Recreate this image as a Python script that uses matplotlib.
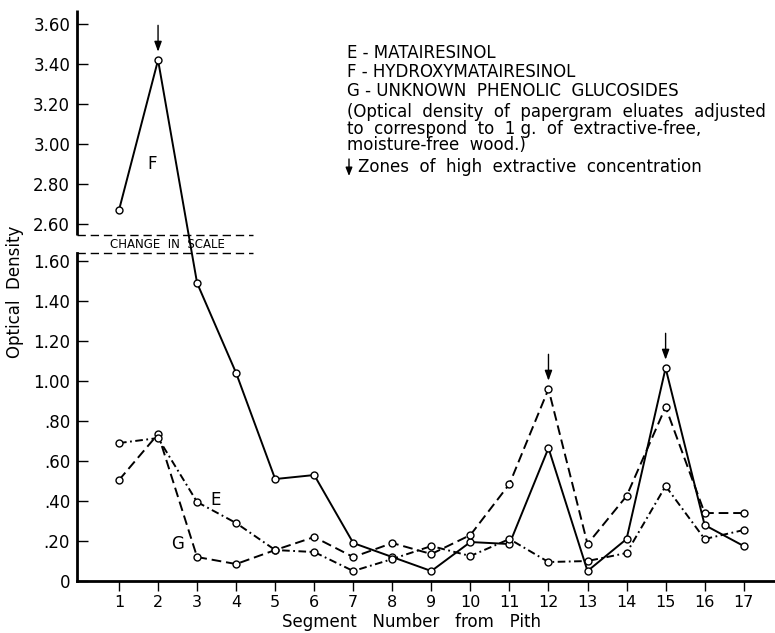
import matplotlib
matplotlib.use("Agg")
import matplotlib.pyplot as plt
import numpy as np

plt.rcParams["font.family"] = ["DejaVu Sans"]
plt.rcParams["lines.scale_dashes"] = False

# segment numbers from pith
segmentos = list(range(1, 18))

# optical density values
f_hidroxi = [2.67, 3.42, 1.49, 1.04, 0.51, 0.53, 0.19, 0.12, 0.05, 0.195,
             0.185, 0.665, 0.05, 0.21, 1.065, 0.28, 0.175]
e_matai = [0.69, 0.715, 0.395, 0.29, 0.155, 0.145, 0.05, 0.11, 0.175, 0.125,
           0.21, 0.095, 0.10, 0.14, 0.475, 0.21, 0.255]
g_gluco = [0.505, 0.735, 0.12, 0.085, 0.155, 0.22, 0.12, 0.19, 0.135, 0.23,
           0.485, 0.96, 0.185, 0.425, 0.87, 0.34, 0.34]

picos = [(2, 3.42), (12, 0.96), (15, 1.065)]

yticks = [0, 0.2, 0.4, 0.6, 0.8, 1.0, 1.2, 1.4, 1.6,
          2.6, 2.8, 3.0, 3.2, 3.4, 3.6]
ylabels = ["0", ".20", ".40", ".60", ".80", "1.00", "1.20", "1.40", "1.60",
           "2.60", "2.80", "3.00", "3.20", "3.40", "3.60"]

# scale break
QUEBRA_BAIXO = 1.64
QUEBRA_ALTO = 2.545
QUEBRA_VIS = 1.73

real = [-10.0, QUEBRA_BAIXO, QUEBRA_ALTO, 20.0]
vis = [-10.0, QUEBRA_BAIXO, QUEBRA_VIS, 20.0 - (QUEBRA_ALTO - QUEBRA_VIS)]


def ida(v):
    return np.interp(v, real, vis)


def volta(v):
    return np.interp(v, vis, real)


fig = plt.figure(figsize=(7.75, 6.33), dpi=100)
ax = fig.add_axes([0.0994, 0.0821, 0.9, 0.902])
ax.set_yscale("function", functions=(ida, volta))

estilo = dict(color="black", marker="o", markersize=5, markerfacecolor="white",
              markeredgecolor="black", markeredgewidth=1.0, lw=1.4)
ax.plot(segmentos, f_hidroxi, linestyle="-", **estilo, zorder=3)
ax.plot(segmentos, g_gluco, linestyle=(0, (7, 3.5)), **estilo, zorder=3)
ax.plot(segmentos, e_matai, linestyle=(0, (5.5, 2.5, 1.3, 2.5)), **estilo, zorder=3)

for x, y in picos:
    ax.annotate("", xy=(x, y), xycoords="data", xytext=(0, 25),
                textcoords="offset points",
                arrowprops=dict(arrowstyle="-|>,head_width=0.22,head_length=0.6",
                                color="black", lw=1.0, shrinkA=0, shrinkB=6,
                                mutation_scale=10))

ax.set_xlim(-0.075, 17.79)
ax.set_ylim(0, 3.67)
ax.set_xticks(segmentos)
ax.set_xticklabels([str(s) for s in segmentos])
ax.set_yticks(yticks)
ax.set_yticklabels(ylabels)
ax.minorticks_off()

ax.tick_params(axis="y", direction="in", length=8, width=1.0, labelsize=12, pad=5)
ax.tick_params(axis="x", direction="out", length=7, width=1.0, labelsize=11.5, pad=3)

for lado in ["top", "right"]:
    ax.spines[lado].set_visible(False)
ax.spines["left"].set_linewidth(2)
ax.spines["bottom"].set_linewidth(2)
ax.spines["left"].set_bounds(0, QUEBRA_BAIXO)
ax.plot([0, 0], [QUEBRA_ALTO, 3.67], transform=ax.get_yaxis_transform(),
        color="black", lw=2, clip_on=False, solid_capstyle="butt")

# change in scale marks
ax.axhline(QUEBRA_BAIXO, xmin=0, xmax=0.252, color="black", lw=1.0,
           linestyle=(0, (6, 3.5)))
ax.axhline(QUEBRA_ALTO, xmin=0, xmax=0.252, color="black", lw=1.0,
           linestyle=(0, (6, 3.5)))
ax.text(0.13, (QUEBRA_BAIXO + QUEBRA_ALTO) / 2, "CHANGE  IN  SCALE",
        transform=ax.get_yaxis_transform(),
        ha="center", va="center", fontsize=8.5)

ax.text(1.85, 2.9, "F", fontsize=12, ha="center", va="center")
ax.text(3.48, 0.405, "E", fontsize=12, ha="center", va="center")
ax.text(2.51, 0.185, "G", fontsize=12, ha="center", va="center")

fig.text(15 / 775, 1 - 292 / 633, "Optical  Density", rotation=90,
         ha="center", va="center", fontsize=12)
fig.text(412 / 775, 1 - 622 / 633, "Segment   Number   from   Pith",
         ha="center", va="center", fontsize=12)

# legend block
legenda = ["E - MATAIRESINOL", "F - HYDROXYMATAIRESINOL",
           "G - UNKNOWN  PHENOLIC  GLUCOSIDES"]
for i, t in enumerate(legenda):
    fig.text(347 / 775, 1 - (53 + 19 * i) / 633, t, ha="left", va="center",
             fontsize=12)
nota = ["(Optical  density  of  papergram  eluates  adjusted",
        "to  correspond  to  1 g.  of  extractive-free,",
        "moisture-free  wood.)"]
for i, t in enumerate(nota):
    fig.text(347 / 775, 1 - (112 + 16.5 * i) / 633, t, ha="left", va="center",
             fontsize=12)
ax.annotate("", xy=(349, 633 - 176), xycoords="figure pixels",
            xytext=(349, 633 - 159), textcoords="figure pixels",
            arrowprops=dict(arrowstyle="-|>,head_width=0.2,head_length=0.5",
                            color="black", lw=1.0, shrinkA=0, shrinkB=0,
                            mutation_scale=10))
fig.text(358 / 775, 1 - 167 / 633, "Zones  of  high  extractive  concentration",
         ha="left", va="center", fontsize=12)

fig.savefig("out.png", dpi=100)
